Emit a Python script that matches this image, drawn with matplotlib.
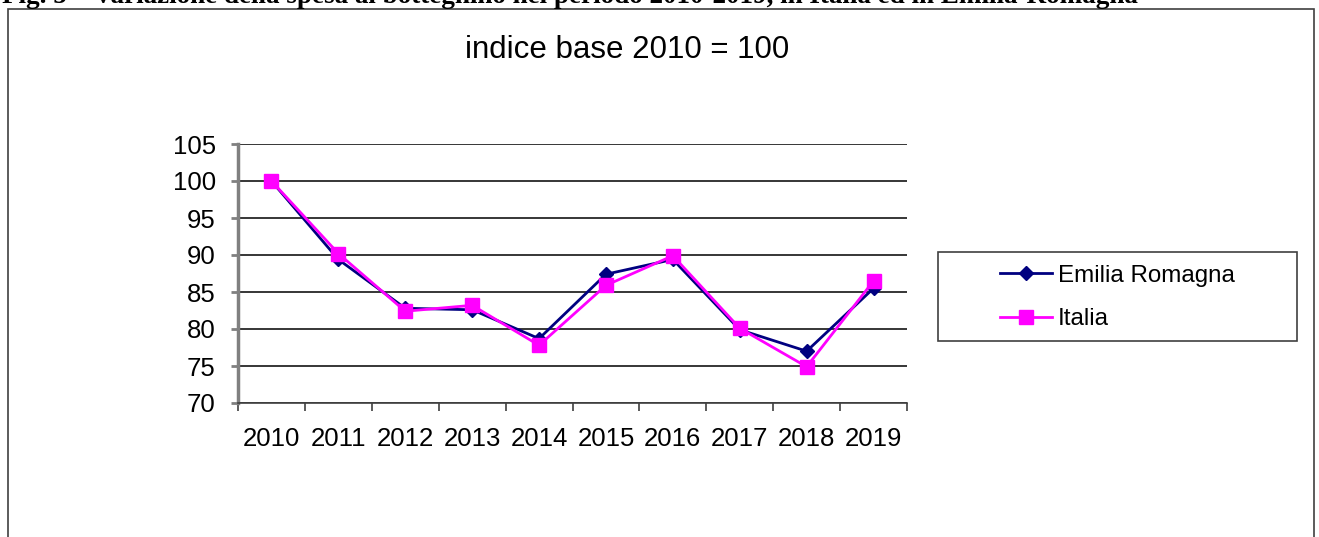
import matplotlib
matplotlib.use("Agg")
import matplotlib.pyplot as plt
from matplotlib.patches import Rectangle
from matplotlib.lines import Line2D

years = ["2010", "2011", "2012", "2013", "2014", "2015", "2016", "2017", "2018", "2019"]
emilia_romagna = [100.0, 89.4, 82.8, 82.6, 78.7, 87.4, 89.4, 79.9, 77.0, 85.5]
italia = [100.0, 90.2, 82.4, 83.2, 77.8, 85.9, 89.9, 80.1, 74.9, 86.5]
yticks = [70, 75, 80, 85, 90, 95, 100, 105]

plt.rcParams['font.family'] = ['Liberation Sans', 'DejaVu Sans']

fig = plt.figure(figsize=(13.19, 5.37), dpi=100)
W, H = 1319, 537

# outer frame
fig.patches.append(Rectangle((8 / W, -0.05), (1314 - 8) / W, 1.05 - 9 / H,
                             transform=fig.transFigure, fill=False,
                             edgecolor='#404040', linewidth=1.2))

# clipped caption at top
fig.text(2 / W, 1 - 3 / H,
         "Fig. 5 \u2013 Variazione della spesa al botteghino nel periodo 2010-2019, in Italia ed in Emilia-Romagna",
         family=['Liberation Serif'], fontweight='bold', fontsize=19.5,
         ha='left', va='baseline')

fig.text(627 / W, 1 - 58 / H, "indice base 2010 = 100", fontsize=22.5,
         ha='center', va='baseline')

ax = fig.add_axes([238 / W, 1 - 403 / H, (907 - 238) / W, (403 - 144) / H])
x = list(range(len(years)))
ax.plot(x, emilia_romagna, color='#000080', marker='D', markersize=7.5,
        linewidth=2, zorder=3)
ax.plot(x, italia, color='#FF00FF', marker='s', markersize=10,
        linewidth=2, zorder=4)

ax.set_xlim(-0.5, len(years) - 0.5)
ax.set_ylim(70, 105)
ax.set_yticks(yticks)
ax.set_yticklabels([str(v) for v in yticks], fontsize=18.5)
ax.set_xticks(x)
ax.set_xticklabels(years, fontsize=18.5)
ax.set_xticks([i - 0.5 for i in range(len(years) + 1)], minor=True)
ax.tick_params(axis='x', which='major', length=0, pad=17)
ax.tick_params(axis='x', which='minor', length=6, width=1.2, color='#404040', direction='out')
ax.tick_params(axis='y', which='major', length=5, width=2, color='#808080', pad=11)
ax.grid(axis='y', color='black', linewidth=1.1)
for s in ['top', 'right']:
    ax.spines[s].set_visible(False)
ax.spines['left'].set_color('#808080')
ax.spines['left'].set_linewidth(2.5)
ax.spines['bottom'].set_color('#404040')
ax.spines['bottom'].set_linewidth(1.2)
ax.set_axisbelow(True)

# legend frame
fig.patches.append(Rectangle((938 / W, 1 - 341 / H), (1297 - 938) / W, (341 - 252) / H,
                             transform=fig.transFigure, fill=False,
                             edgecolor='#404040', linewidth=1.2))
handles = [Line2D([], [], color='#000080', marker='D', markersize=7.5, linewidth=2),
           Line2D([], [], color='#FF00FF', marker='s', markersize=10, linewidth=2)]
leg = fig.legend(handles, ['Emilia Romagna', 'Italia'],
                 loc='center left', bbox_to_anchor=(1000 / W, 1 - 297.5 / H),
                 fontsize=17.4, frameon=False, handlelength=2.15, handletextpad=0.25,
                 borderpad=0, labelspacing=0.9, borderaxespad=0)

fig.savefig("out.png", dpi=100)
